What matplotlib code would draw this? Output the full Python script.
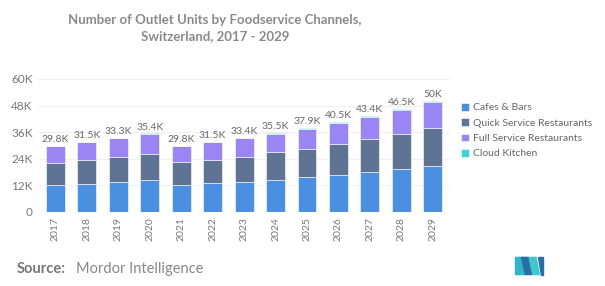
import matplotlib
matplotlib.use("Agg")
import matplotlib.pyplot as plt
from matplotlib.patches import Polygon
import numpy as np

plt.rcParams['font.family'] = ['Lato', 'DejaVu Sans']

years = ["2017", "2018", "2019", "2020", "2021", "2022", "2023", "2024", "2025", "2026", "2027", "2028", "2029"]
totals = [29.8, 31.5, 33.3, 35.4, 29.8, 31.5, 33.4, 35.5, 37.9, 40.5, 43.4, 46.5, 50.0]
total_labels = ["29.8K", "31.5K", "33.3K", "35.4K", "29.8K", "31.5K", "33.4K", "35.5K", "37.9K", "40.5K", "43.4K", "46.5K", "50K"]
cafes = [12.2, 12.8, 13.7, 14.4, 12.2, 12.9, 13.7, 14.4, 15.6, 16.7, 18.0, 19.4, 20.7]
quick = [10.0, 10.5, 11.2, 11.9, 10.2, 10.7, 11.2, 12.5, 13.0, 13.8, 14.8, 15.9, 17.2]
cloud = [0.1, 0.1, 0.1, 0.1, 0.1, 0.1, 0.2, 0.3, 0.4, 0.4, 0.5, 0.5, 0.6]
full = [t - c - q - k for t, c, q, k in zip(totals, cafes, quick, cloud)]

series = ["Cafes & Bars", "Quick Service Restaurants", "Full Service Restaurants", "Cloud Kitchen"]
colors = ["#4a8fe0", "#5f7494", "#9a86f2", "#3ed3d6"]
yticks = [0, 12, 24, 36, 48, 60]
ytick_labels = ["0", "12K", "24K", "36K", "48K", "60K"]

fig = plt.figure(figsize=(6.05, 2.86), dpi=100)
ax = fig.add_axes([0.063, 0.259, 0.681, 0.465])

x = np.arange(len(years))
bottom = np.zeros(len(years))
for vals, col, name in zip([cafes, quick, full, cloud], colors, series):
    ax.bar(x, vals, 0.6, bottom=bottom, color=col, label=name,
           edgecolor="white", linewidth=0.4)
    bottom += np.array(vals)

for xi, t, lab in zip(x, totals, total_labels):
    ax.text(xi, t + 0.8, lab, ha="center", va="bottom", fontsize=7.5, color="#666666")

ax.set_ylim(0, 60)
ax.set_xlim(-0.55, len(years) - 0.45)
ax.set_yticks(yticks)
ax.set_yticklabels(ytick_labels, fontsize=8.5, color="#777777")
ax.set_xticks(x)
ax.set_xticklabels(years, rotation=90, fontsize=7.5, color="#777777")
ax.tick_params(length=0, pad=4)
ax.grid(axis="y", color="#f0f0f0", linewidth=0.8)
ax.set_axisbelow(True)
for s in ax.spines.values():
    s.set_visible(False)

leg = fig.legend(loc="upper left", bbox_to_anchor=(0.755, 0.655), frameon=False,
                 fontsize=7.5, handlelength=0.8, handleheight=0.8, handletextpad=0.4,
                 labelspacing=0.55, borderaxespad=0)
for t in leg.get_texts():
    t.set_color("#666666")

fig.text(0.355, 0.95, "Number of Outlet Units by Foodservice Channels,\nSwitzerland, 2017 - 2029",
         ha="center", va="top", fontsize=9.5, fontweight="bold", color="#8a8a8a", linespacing=1.35)

fig.text(0.027, 0.06, "Source:", fontsize=10.5, color="#777777", fontweight="bold", va="center")
fig.text(0.125, 0.06, "Mordor Intelligence", fontsize=10.5, color="#888888", va="center")

# simple logo
lx, ly = 0.852, 0.04
w, h = 0.011, 0.06
logo = [
    [(lx, ly), (lx, ly + h), (lx + w, ly + h), (lx + 1.4 * w, ly)],
    [(lx + 0.9 * w, ly + h), (lx + 1.9 * w, ly + h), (lx + 2.5 * w, ly), (lx + 1.5 * w, ly)],
    [(lx + 2.1 * w, ly + h), (lx + 3.1 * w, ly + h), (lx + 3.6 * w, ly), (lx + 2.6 * w, ly)],
    [(lx + 3.4 * w, ly + h), (lx + 4.1 * w, ly + h), (lx + 4.1 * w, ly), (lx + 3.8 * w, ly)],
]
logo_cols = ["#2fb5c8", "#2a6ea8", "#3fc7d0", "#2a6ea8"]
for pts, c in zip(logo, logo_cols):
    fig.patches.append(Polygon(pts, closed=True, transform=fig.transFigure, color=c))

fig.savefig("out.png", dpi=100)
